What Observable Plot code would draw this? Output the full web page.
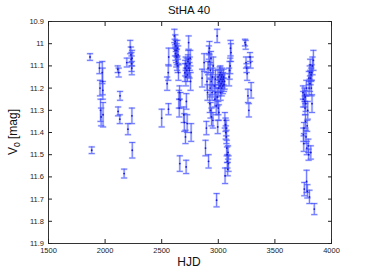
<!DOCTYPE html>
<html>
<head>
<meta charset="utf-8">
<script src="https://cdn.jsdelivr.net/npm/d3@7"></script>
<script src="https://cdn.jsdelivr.net/npm/@observablehq/plot@0.6"></script>
<style>
  html, body { margin: 0; padding: 0; background: #fff; }
  #chart { width: 366px; height: 275px; }
  svg { font-family: "Liberation Sans", Arial, sans-serif; }
</style>
</head>
<body>
<div id="chart"></div>
<script>
// Heliocentric Julian date (offset), magnitude, error
const hjd = [
  1867, 1882, 1950, 1955, 1960, 1965, 1975, 1978, 1980, 1982,
  2112, 2120, 2115, 2130, 2132, 2168, 2192, 2202, 2222, 2228, 2232, 2234, 2236, 2238, 2237, 2240,
  2500, 2548, 2558, 2562, 2560,
  2612, 2615, 2618, 2620, 2622, 2625, 2628, 2630, 2632, 2634, 2636, 2638, 2642, 2645, 2648, 2652, 2655, 2658, 2660, 2665,
  2695, 2700, 2705, 2708, 2710, 2712, 2714, 2716, 2718, 2720, 2722, 2725, 2728, 2732, 2735, 2738, 2740, 2745, 2748, 2755, 2760, 2752,
  2857, 2875, 2887, 2895, 2900, 2905, 2910, 2914, 2917, 2920, 2922, 2925, 2928, 2930, 2932, 2935, 2938, 2940, 2945, 2948, 2952, 2955,
  2965, 2970, 2975, 2978, 2982, 2985, 2990, 2992, 2995, 2998, 3000, 3003, 3005, 3008, 3012, 3015, 3018, 3020, 3022, 3025, 3028, 3030, 3033, 3036, 3040, 3043, 3046, 3050, 3055,
  3058, 3060, 3064, 3066, 3070, 3072, 3075, 3078, 3080, 3083, 3086, 3090, 3095, 3100, 3105, 3108, 3112,
  3236, 3242, 3245, 3250, 3255, 3262, 3270, 3280, 3285, 3290,
  3748, 3750, 3752, 3755, 3757, 3760, 3762, 3764, 3766, 3768, 3770, 3772, 3775, 3778, 3780, 3782, 3785, 3787, 3790, 3795, 3798,
  3800, 3802, 3805, 3808, 3810, 3812, 3815, 3817, 3820, 3822, 3825, 3828, 3832, 3840, 3848
];
const mag = [
  11.06, 11.48, 11.11, 11.20, 11.30, 11.33, 11.13, 11.17, 11.21, 11.32,
  11.115, 11.13, 11.305, 11.34, 11.235, 11.585, 11.085, 11.385, 11.015, 11.05, 11.07, 11.09, 11.11, 11.065, 11.325, 11.48,
  11.335, 11.18, 11.13, 11.06, 11.295,
  10.965, 11.0, 11.03, 10.99, 11.045, 11.01, 11.055, 11.08, 11.03, 11.06, 11.09, 11.02, 11.1, 11.05, 11.13, 11.25, 11.29, 11.22, 11.54, 11.255,
  11.32, 11.355, 11.13, 11.11, 11.42, 11.09, 11.15, 11.555, 11.26, 11.12, 11.10, 11.36, 11.14, 11.08, 11.07, 10.995, 11.11, 11.12, 11.09, 11.17, 11.40, 11.065,
  11.155, 11.085, 11.47, 11.38, 11.17, 11.22, 11.11, 11.53, 11.04, 11.08, 11.02, 11.27, 11.20, 11.12, 11.30, 11.065, 11.17, 11.33, 11.22, 11.15, 11.345, 11.10,
  11.19, 11.25, 11.16, 11.22, 11.28, 11.705, 10.965, 11.24, 11.375, 11.15, 11.29, 11.20, 11.31, 11.17, 11.14, 11.19, 11.13, 11.22, 11.16, 11.18, 11.15, 11.20, 11.14, 11.17, 11.19, 11.16, 11.15, 11.185, 11.17,
  11.345, 11.595, 11.365, 11.40, 11.38, 11.42, 11.47, 11.50, 11.53, 11.565, 11.49, 11.54, 11.15, 11.12, 11.10, 11.02, 11.04,
  10.995, 11.005, 11.085, 11.11, 11.135, 11.235, 11.30, 11.06, 11.085, 11.21,
  11.22, 11.25, 11.41, 11.45, 11.38, 11.655, 11.23, 11.26, 11.29, 11.24, 11.35, 11.27, 11.42, 11.20, 11.62, 11.47, 11.37, 11.665, 11.30, 11.46, 11.50,
  11.155, 11.20, 11.69, 11.13, 11.18, 11.095, 11.155, 11.49, 11.14, 11.20, 11.13, 11.27, 11.10, 11.075, 11.745
];
const err = [
  0.015, 0.015, 0.025, 0.035, 0.05, 0.04, 0.05, 0.06, 0.04, 0.055,
  0.015, 0.02, 0.02, 0.02, 0.02, 0.02, 0.02, 0.025, 0.03, 0.035, 0.03, 0.035, 0.03, 0.035, 0.035, 0.035,
  0.04, 0.03, 0.035, 0.04, 0.025,
  0.03, 0.02, 0.025, 0.03, 0.03, 0.025, 0.03, 0.025, 0.03, 0.035, 0.03, 0.035, 0.03, 0.04, 0.035, 0.04, 0.04, 0.03, 0.035, 0.035,
  0.035, 0.04, 0.04, 0.035, 0.03, 0.03, 0.04, 0.03, 0.035, 0.03, 0.035, 0.04, 0.03, 0.03, 0.04, 0.03, 0.04, 0.035, 0.03, 0.04, 0.04, 0.035,
  0.04, 0.04, 0.035, 0.03, 0.04, 0.035, 0.03, 0.03, 0.03, 0.035, 0.03, 0.04, 0.04, 0.035, 0.035, 0.03, 0.04, 0.04, 0.035, 0.04, 0.035, 0.04,
  0.04, 0.035, 0.04, 0.035, 0.04, 0.03, 0.03, 0.04, 0.03, 0.035, 0.03, 0.035, 0.035, 0.03, 0.035, 0.03, 0.03, 0.035, 0.03, 0.035, 0.03, 0.035, 0.03, 0.03, 0.035, 0.03, 0.035, 0.03, 0.035,
  0.035, 0.035, 0.03, 0.03, 0.035, 0.03, 0.035, 0.035, 0.03, 0.03, 0.03, 0.035, 0.04, 0.04, 0.035, 0.035, 0.04,
  0.015, 0.02, 0.025, 0.02, 0.03, 0.03, 0.03, 0.02, 0.025, 0.035,
  0.03, 0.035, 0.03, 0.035, 0.025, 0.03, 0.03, 0.025, 0.03, 0.03, 0.03, 0.035, 0.03, 0.035, 0.05, 0.03, 0.025, 0.03, 0.04, 0.03, 0.025,
  0.03, 0.03, 0.03, 0.03, 0.035, 0.025, 0.03, 0.03, 0.03, 0.035, 0.035, 0.04, 0.04, 0.045, 0.025
];
const xTicks = [1500, 2000, 2500, 3000, 3500, 4000];
const yTicks = [10.9, 11.0, 11.1, 11.2, 11.3, 11.4, 11.5, 11.6, 11.7, 11.8, 11.9];
const yTickLabels = ["10.9", "11", "11.1", "11.2", "11.3", "11.4", "11.5", "11.6", "11.7", "11.8", "11.9"];
const title = "StHA 40";
const xLabel = "HJD";

const data = hjd.map((x, i) => ({x, y: mag[i], e: err[i]}));

const hline = {
  draw(context, size) {
    const r = Math.sqrt(size / Math.PI);
    context.moveTo(-r, 0);
    context.lineTo(r, 0);
  }
};

const halo = "#b8c0ff";
const core = "#3f4bff";

const W = 366, H = 275;
const plot = Plot.plot({
  width: W,
  height: H,
  marginLeft: 48,
  marginRight: 35,
  marginTop: 21,
  marginBottom: 32,
  style: {fontFamily: "Liberation Sans, Arial, sans-serif", fontSize: "7.5px", background: "#fff", color: "#222"},
  x: {domain: [1500, 4000]},
  y: {domain: [10.9, 11.9], reverse: true},
  marks: [
    Plot.ruleX(data, {x: "x", y1: d => d.y - d.e, y2: d => d.y + d.e, stroke: halo, strokeWidth: 2.4, strokeOpacity: 0.6}),
    Plot.dot(data, {x: "x", y: d => d.y - d.e, symbol: hline, r: 3.4, stroke: halo, strokeWidth: 2.2, fill: "none", strokeOpacity: 0.6}),
    Plot.dot(data, {x: "x", y: d => d.y + d.e, symbol: hline, r: 3.4, stroke: halo, strokeWidth: 2.2, fill: "none", strokeOpacity: 0.6}),
    Plot.ruleX(data, {x: "x", y1: d => d.y - d.e, y2: d => d.y + d.e, stroke: core, strokeWidth: 0.7}),
    Plot.dot(data, {x: "x", y: d => d.y - d.e, symbol: hline, r: 3, stroke: core, strokeWidth: 0.7, fill: "none"}),
    Plot.dot(data, {x: "x", y: d => d.y + d.e, symbol: hline, r: 3, stroke: core, strokeWidth: 0.7, fill: "none"}),
    Plot.dot(data, {x: "x", y: "y", r: 0.9, fill: "#1a1ad0", stroke: null}),
    Plot.frame({stroke: "#333", strokeWidth: 1}),
    Plot.axisX(xTicks, {anchor: "bottom", tickSize: -4, tickPadding: 8, label: null, tickFormat: d => String(d), fontSize: 7.5}),
    Plot.axisX(xTicks, {anchor: "top", tickSize: -4, label: null, tickFormat: () => ""}),
    Plot.axisY(yTicks, {anchor: "left", tickSize: -4, tickPadding: 8.5, label: null, tickFormat: (d, i) => yTickLabels[i], fontSize: 7.5}),
    Plot.axisY(yTicks, {anchor: "right", tickSize: -4, label: null, tickFormat: () => ""})
  ]
});

const svg = d3.select(plot);
svg.append("text")
  .attr("x", 189).attr("y", 14)
  .attr("text-anchor", "middle")
  .attr("font-size", 11.5)
  .attr("fill", "#111")
  .text(title);
svg.append("text")
  .attr("x", 189).attr("y", 266)
  .attr("text-anchor", "middle")
  .attr("font-size", 12)
  .attr("fill", "#111")
  .text(xLabel);
const yl = svg.append("text")
  .attr("transform", "translate(17,132) rotate(-90)")
  .attr("text-anchor", "middle")
  .attr("font-size", 12)
  .attr("fill", "#111");
yl.append("tspan").text("V");
yl.append("tspan").attr("dy", 3).attr("font-size", 8.5).text("0");
yl.append("tspan").attr("dy", -3).text(" [mag]");

document.getElementById("chart").appendChild(plot);
</script>
</body>
</html>
